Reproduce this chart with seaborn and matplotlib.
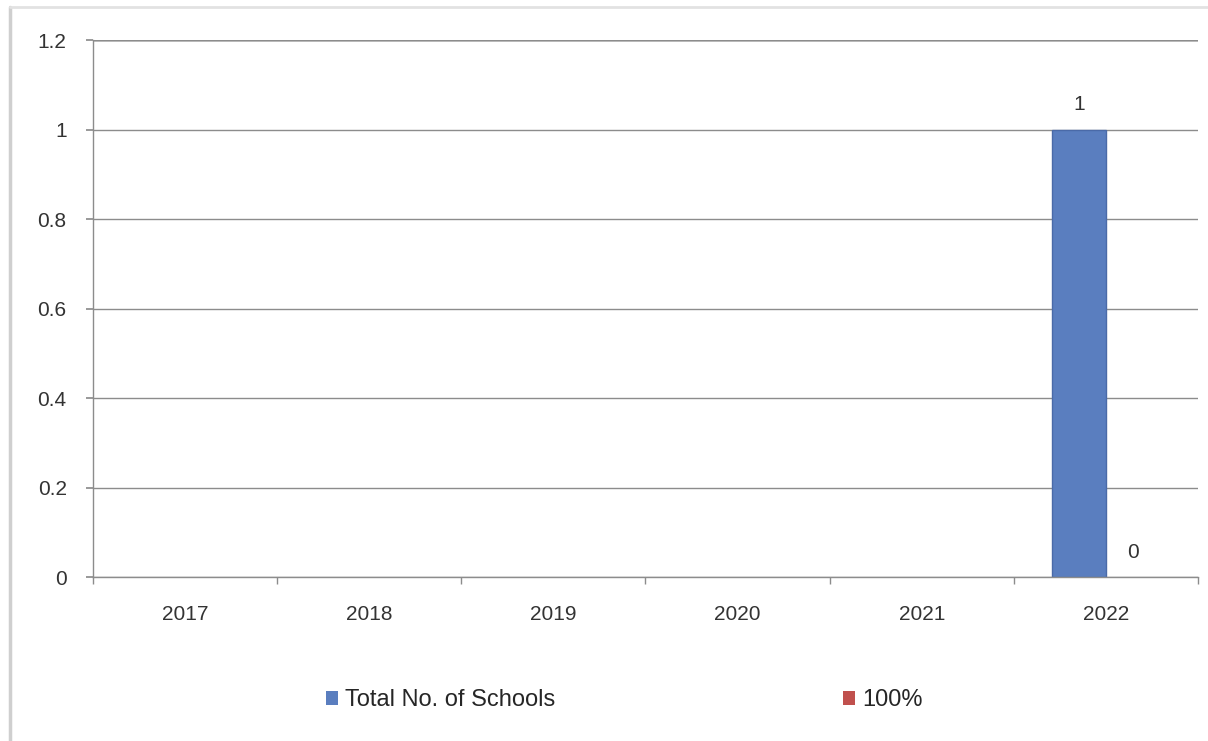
import matplotlib
matplotlib.use("Agg")
import matplotlib.pyplot as plt
from matplotlib.lines import Line2D
from matplotlib.patches import Patch
from matplotlib.ticker import FixedLocator
import seaborn as sns
import pandas as pd

years = ["2017", "2018", "2019", "2020", "2021", "2022"]
series_names = ["Total No. of Schools", "100%"]
data_years = ["2022", "2022"]
data_series = ["Total No. of Schools", "100%"]
data_values = [1, 0]
y_ticks = [0, 0.2, 0.4, 0.6, 0.8, 1.0, 1.2]
y_tick_labels = ["0", "0.2", "0.4", "0.6", "0.8", "1", "1.2"]
colors = ["#5A7EBF", "#C0504D"]

df = pd.DataFrame({"Year": data_years, "Series": data_series, "Value": data_values})

sns.set_theme(style="white")
plt.rcParams["font.family"] = ["Liberation Sans", "DejaVu Sans"]

fig = plt.figure(figsize=(12.08, 7.41), dpi=100)
ax = fig.add_axes([0.077, 0.2213, 0.9917 - 0.077, 0.946 - 0.2213])

sns.barplot(data=df, x="Year", y="Value", hue="Series", order=years,
            hue_order=series_names, palette=colors, width=0.58, ax=ax,
            saturation=1, edgecolor="none", linewidth=0, legend=False)

for cont in ax.containers:
    for p in cont.patches:
        if p.get_height() > 0:
            p.set_edgecolor("#4A6AA8")
            p.set_linewidth(1.0)

ax.set_xlim(-0.5, len(years) - 0.5)
ax.set_ylim(0, 1.2)
ax.set_yticks(y_ticks)
ax.set_yticklabels(y_tick_labels)
ax.grid(axis="y", color="#8c8c8c", linewidth=1.0)
ax.set_axisbelow(True)
for s in ["top", "right"]:
    ax.spines[s].set_visible(False)
for s in ["left", "bottom"]:
    ax.spines[s].set_color("#8c8c8c")
    ax.spines[s].set_linewidth(1.0)
ax.axhline(1.2, color="#bdbdbd", linewidth=2, zorder=0)

ax.set_xlabel("")
ax.set_ylabel("")
ax.tick_params(axis="x", which="major", length=0, pad=20, labelsize=15, labelcolor="#333333")
ax.xaxis.set_minor_locator(FixedLocator([i - 0.5 for i in range(len(years) + 1)]))
ax.tick_params(axis="x", which="minor", length=5, color="#8c8c8c", direction="out", bottom=True)
ax.tick_params(axis="y", length=5, color="#8c8c8c", direction="out", left=True, labelsize=15,
               labelcolor="#333333", pad=14)

for cont in ax.containers:
    ax.bar_label(cont, labels=[f"{v:g}" for v in cont.datavalues], padding=11,
                 fontsize=15, color="#333333")

handles = [Patch(facecolor=c, edgecolor="none") for c in colors]
fig.legend(handles, series_names, loc="center", bbox_to_anchor=(0.517, 0.055), ncol=2,
           frameon=False, fontsize=17, handlelength=0.5, handleheight=0.5,
           handletextpad=0.3, columnspacing=12.2)

fig.add_artist(Line2D([0.0085, 0.0085], [0, 0.991], transform=fig.transFigure,
                      color="#cfcfcf", linewidth=2.5))
fig.add_artist(Line2D([0.0085, 1.0], [0.991, 0.991], transform=fig.transFigure,
                      color="#e2e2e2", linewidth=2))

fig.savefig("out.png", dpi=100)
